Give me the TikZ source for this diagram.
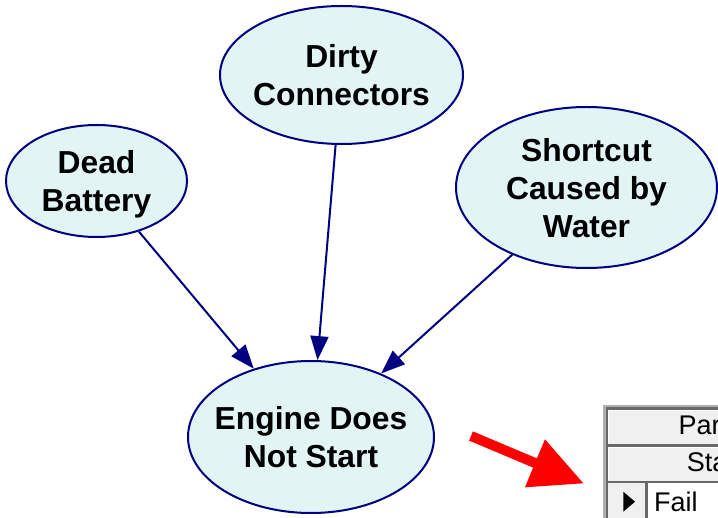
\documentclass[tikz,border=0pt]{standalone}
\usepackage{fontspec}
\setmainfont{Liberation Sans}
\usetikzlibrary{shapes.geometric,arrows.meta}
\definecolor{edgeblue}{RGB}{0,0,128}
\definecolor{nodefill}{RGB}{226,244,244}
\definecolor{gridlight}{RGB}{175,175,175}
\definecolor{griddark}{RGB}{105,105,105}
\definecolor{cellgray}{RGB}{240,240,240}
\begin{document}
\begin{tikzpicture}[x=1pt,y=-1pt,
  var/.style={ellipse,draw=edgeblue,line width=2pt,fill=nodefill,inner sep=0pt},
  varlabel/.style={align=center,font=\fontsize{31.8}{38}\selectfont\bfseries,
    text depth=0pt,inner sep=0pt},
  link/.style={draw=edgeblue,line width=2pt,-{Triangle[length=24pt,width=18pt]}},
  gridtext/.style={font=\fontsize{27}{30}\selectfont,inner sep=0pt,anchor=base west}]
\useasboundingbox (0,0) rectangle (718,518);
\fill[white] (0,0) rectangle (718,518);

% variables of the network
\node[var,minimum width=181pt,minimum height=112pt] (db) at (96.5,181) {};
\node[var,minimum width=243pt,minimum height=138pt] (dc) at (341.5,75) {};
\node[var,minimum width=261pt,minimum height=161pt] (sw) at (586.5,187.5) {};
\node[var,minimum width=246pt,minimum height=152pt] (eng) at (311,437) {};

% causal links
\draw[link] (db) -- (eng);
\draw[link] (dc) -- (eng);
\draw[link] (sw) -- (eng);

% labels
\node[varlabel] (dbt) at (db) {Dead\\Battery};
\node[varlabel] (dct) at (dc) {Dirty\\Connectors};
\node[varlabel] (swt) at (sw) {Shortcut\\Caused by\\Water};
\node[varlabel] (engt) at (eng) {Engine Does\\Not Start};

% red pointer
\fill[red] (472.9,431.4) -- (536.9,458.4) -- (545,439.3) -- (583.3,483.3)
  -- (525,487.3) -- (533.1,467.6) -- (469.1,440.6) -- cycle;

% probability grid corner
\begin{scope}
\clip (0,0) rectangle (718,518);
\fill[gridlight] (603,405) rectangle (730,530);
\fill[griddark] (605.5,407.5) rectangle (730,530);
\fill[cellgray] (608,410) rectangle (730,444.5);
\draw[white,line width=1pt] (608.5,443) -- (608.5,410.5) -- (730,410.5);
\fill[cellgray] (608,447) rectangle (730,481);
\draw[white,line width=1pt] (608.5,480) -- (608.5,447.5) -- (730,447.5);
\fill[cellgray] (608,483.5) rectangle (645,530);
\fill[white] (648,483.5) rectangle (730,530);
\node[gridtext] (hpar) at (678.3,435) {Par};
\node[gridtext] (hsta) at (686.7,471.7) {Sta};
\node[gridtext] (sfail) at (654,511.7) {Fail};
\fill[black] (623.3,491.7) -- (635,501.7) -- (623.3,511.7) -- cycle;
\end{scope}
\end{tikzpicture}
\end{document}
